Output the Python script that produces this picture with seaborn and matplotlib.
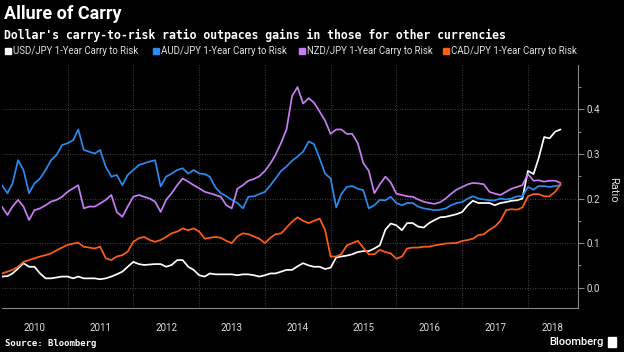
import numpy as np
import pandas as pd
import matplotlib
matplotlib.use('Agg')
import matplotlib.pyplot as plt
import matplotlib.ticker as mticker
from matplotlib.patches import Rectangle
import seaborn as sns

# Data (monthly readings, Jan 2010 - Jul 2018)
months = pd.date_range('2010-01-01', periods=103, freq='MS')
series_names = ['USD/JPY 1-Year Carry to Risk', 'AUD/JPY 1-Year Carry to Risk',
                'NZD/JPY 1-Year Carry to Risk', 'CAD/JPY 1-Year Carry to Risk']
usd_jpy = [0.025, 0.026, 0.032, 0.043, 0.055, 0.047, 0.047, 0.032, 0.021, 0.021, 0.023, 0.025, 0.025,
           0.021, 0.025, 0.021, 0.021, 0.021, 0.019, 0.021, 0.025, 0.030, 0.036, 0.047, 0.058,
           0.053, 0.051, 0.052, 0.053, 0.053, 0.047, 0.051, 0.062, 0.062, 0.047, 0.040, 0.028,
           0.025, 0.032, 0.030, 0.030, 0.030, 0.030, 0.028, 0.030, 0.030, 0.028, 0.025, 0.028,
           0.032, 0.032, 0.036, 0.040, 0.040, 0.048, 0.055, 0.050, 0.047, 0.047, 0.042, 0.045,
           0.068, 0.070, 0.072, 0.075, 0.080, 0.082, 0.082, 0.088, 0.095, 0.130, 0.144, 0.140,
           0.129, 0.145, 0.145, 0.137, 0.135, 0.145, 0.152, 0.158, 0.159, 0.162, 0.165, 0.170,
           0.185, 0.195, 0.190, 0.190, 0.190, 0.185, 0.190, 0.192, 0.195, 0.196, 0.200, 0.262,
           0.255, 0.290, 0.338, 0.335, 0.350, 0.355]
aud_jpy = [0.230, 0.212, 0.234, 0.286, 0.264, 0.212, 0.234, 0.245, 0.264, 0.286, 0.298, 0.320, 0.324,
           0.331, 0.355, 0.309, 0.305, 0.301, 0.309, 0.271, 0.249, 0.253, 0.230, 0.253, 0.264,
           0.275, 0.279, 0.283, 0.286, 0.227, 0.249, 0.256, 0.264, 0.268, 0.256, 0.264, 0.256,
           0.255, 0.249, 0.225, 0.212, 0.205, 0.197, 0.190, 0.178, 0.204, 0.205, 0.210, 0.215,
           0.230, 0.245, 0.262, 0.272, 0.285, 0.294, 0.305, 0.328, 0.322, 0.290, 0.256, 0.245,
           0.180, 0.210, 0.226, 0.228, 0.222, 0.219, 0.178, 0.185, 0.197, 0.196, 0.204, 0.190,
           0.185, 0.190, 0.190, 0.182, 0.178, 0.176, 0.174, 0.175, 0.178, 0.185, 0.190, 0.192,
           0.200, 0.205, 0.200, 0.198, 0.196, 0.196, 0.200, 0.198, 0.200, 0.205, 0.205, 0.226,
           0.220, 0.228, 0.228, 0.226, 0.228, 0.230]
nzd_jpy = [0.182, 0.163, 0.182, 0.197, 0.182, 0.152, 0.174, 0.178, 0.185, 0.193, 0.197, 0.204, 0.215,
           0.223, 0.230, 0.178, 0.182, 0.182, 0.189, 0.197, 0.208, 0.170, 0.159, 0.182, 0.204,
           0.208, 0.204, 0.200, 0.193, 0.170, 0.197, 0.212, 0.230, 0.245, 0.238, 0.230, 0.223,
           0.215, 0.212, 0.208, 0.204, 0.185, 0.178, 0.222, 0.230, 0.240, 0.244, 0.250, 0.262,
           0.279, 0.298, 0.325, 0.355, 0.430, 0.450, 0.413, 0.425, 0.415, 0.395, 0.375, 0.345,
           0.355, 0.355, 0.345, 0.345, 0.324, 0.280, 0.262, 0.212, 0.232, 0.249, 0.236, 0.211,
           0.208, 0.205, 0.204, 0.198, 0.193, 0.190, 0.188, 0.192, 0.200, 0.211, 0.220, 0.226,
           0.232, 0.235, 0.234, 0.232, 0.215, 0.211, 0.208, 0.215, 0.222, 0.226, 0.230, 0.255,
           0.240, 0.241, 0.238, 0.240, 0.240, 0.235]
cad_jpy = [0.032, 0.036, 0.040, 0.047, 0.058, 0.062, 0.066, 0.070, 0.073, 0.077, 0.084, 0.090, 0.096,
           0.099, 0.101, 0.092, 0.090, 0.088, 0.092, 0.066, 0.062, 0.070, 0.073, 0.081, 0.103,
           0.111, 0.114, 0.107, 0.103, 0.107, 0.114, 0.122, 0.126, 0.133, 0.129, 0.133, 0.126,
           0.110, 0.112, 0.114, 0.112, 0.105, 0.100, 0.115, 0.122, 0.120, 0.115, 0.110, 0.100,
           0.112, 0.120, 0.122, 0.135, 0.148, 0.158, 0.150, 0.145, 0.150, 0.155, 0.130, 0.070,
           0.070, 0.075, 0.095, 0.100, 0.105, 0.090, 0.075, 0.075, 0.085, 0.080, 0.077, 0.065,
           0.070, 0.088, 0.090, 0.090, 0.092, 0.092, 0.095, 0.097, 0.099, 0.100, 0.100, 0.105,
           0.107, 0.110, 0.118, 0.120, 0.130, 0.137, 0.150, 0.174, 0.176, 0.175, 0.180, 0.205,
           0.210, 0.210, 0.205, 0.205, 0.215, 0.232]
year_labels = ['2010', '2011', '2012', '2013', '2014', '2015', '2016', '2017', '2018']
colors = ['#ffffff', '#2a8cf0', '#c87df5', '#ff5f14']

df = pd.concat([pd.DataFrame({'Date': months, 'Ratio': vals, 'Series': name})
                for name, vals in zip(series_names, [usd_jpy, aud_jpy, nzd_jpy, cad_jpy])])

sns.set_style('dark')
plt.rcParams['font.family'] = ['Roboto', 'DejaVu Sans']

fig = plt.figure(figsize=(6.24, 3.52), dpi=100, facecolor='black')
ax = fig.add_axes([0.003, 0.125, 0.923, 0.69])
ax.set_facecolor('black')

sns.lineplot(data=df, x='Date', y='Ratio', hue='Series', hue_order=series_names,
             palette=dict(zip(series_names, colors)), linewidth=1.25, legend=False, ax=ax)

x_end = pd.Timestamp('2018-10-05')
ax.set_xlim(pd.Timestamp('2010-01-01'), x_end)
ax.set_ylim(-0.0455, 0.4993)

# year separators (major) and centred year labels (minor)
year_starts = pd.date_range('2011-01-01', '2018-01-01', freq='YS')
label_pos = [pd.Timestamp(f'{y}-07-02') for y in year_labels[:-1]]
label_pos.append(pd.Timestamp('2018-01-01') + (x_end - pd.Timestamp('2018-01-01')) / 2)
ax.set_xticks(year_starts)
ax.set_xticklabels([])
ax.set_xticks(label_pos, minor=True)
ax.set_xticklabels(year_labels, minor=True)
ax.tick_params(axis='x', which='major', length=18, width=0.8, color='#777777', direction='out')
ax.tick_params(axis='x', which='minor', length=0, pad=11, labelsize=7, labelcolor='#dddddd')

# right-hand y axis
ax.yaxis.tick_right()
ax.set_yticks([0.0, 0.1, 0.2, 0.3, 0.4])
ax.set_yticklabels(['0.0', '0.1', '0.2', '0.3', '0.4'])
ax.yaxis.set_minor_locator(mticker.MultipleLocator(0.05))
ax.tick_params(axis='y', which='major', length=4, width=0.8, color='#888888',
               labelsize=7, labelcolor='#dddddd', pad=2, left=False, right=True)
ax.tick_params(axis='y', which='minor', length=2.5, width=0.8, color='#888888', left=False, right=True)
ax.set_xlabel('')
ax.set_ylabel('')

ax.grid(True, which='major', axis='both', color='#5a5a5a', linestyle=(0, (1, 2)), linewidth=0.6)
ax.grid(False, which='minor')
for side in ['left', 'top']:
    ax.spines[side].set_visible(False)
for side in ['right', 'bottom']:
    ax.spines[side].set_visible(True)
    ax.spines[side].set_color('#888888')
    ax.spines[side].set_linewidth(0.8)

fig.text(613 / 624, 1 - 190 / 352, 'Ratio', rotation=270, ha='center', va='center',
         fontsize=8, color='#dddddd')

# titles
fig.text(4 / 624, 1 - 14 / 352, 'Allure of Carry', fontsize=13, fontweight='bold',
         color='white', va='center')
fig.text(4 / 624, 1 - 35 / 352, "Dollar's carry-to-risk ratio outpaces gains in those for other currencies",
         family=['DejaVu Sans Mono'], fontweight='bold', fontsize=8.3, color='white', va='center')

# legend
legend_x = [5, 153, 299, 443]
for lx, name, c in zip(legend_x, series_names, colors):
    fig.patches.append(Rectangle((lx / 624, 1 - 54 / 352), 6 / 624, 6 / 352,
                                 transform=fig.transFigure, color=c))
    fig.text((lx + 8) / 624, 1 - 51 / 352, name, fontsize=6.9, color='#e0e0e0', va='center')

# footer
fig.text(5 / 624, 1 - 343 / 352, 'Source: Bloomberg', family=['DejaVu Sans Mono'],
         fontweight='bold', fontsize=6.5, color='white', va='center')
fig.text(604 / 624, 1 - 342 / 352, 'Bloomberg', ha='right', va='center', fontsize=8,
         fontweight='medium', color='white')
fig.patches.append(Rectangle((608 / 624, 1 - 347 / 352), 8 / 624, 10 / 352,
                             transform=fig.transFigure, color='white'))

fig.savefig('out.png', dpi=100, facecolor='black')
